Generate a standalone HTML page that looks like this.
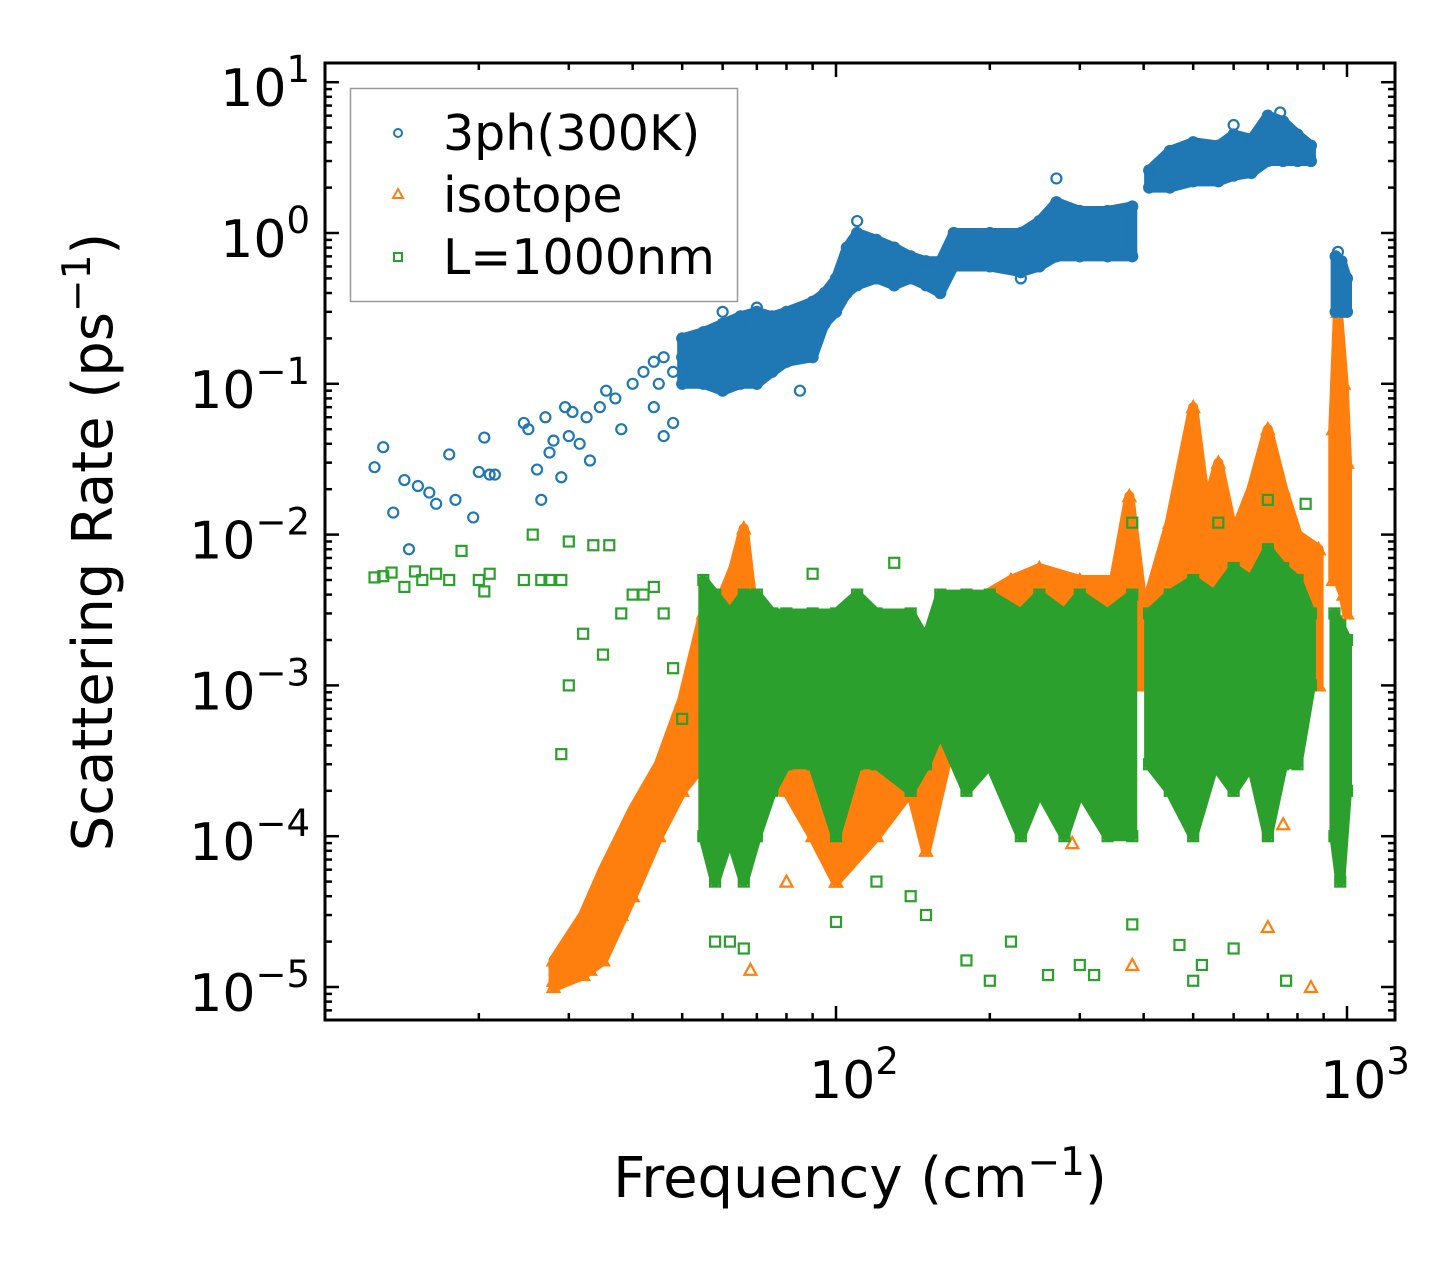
<!DOCTYPE html>
<html><head><meta charset="utf-8"><style>
html,body{margin:0;padding:0;background:#fff;}
svg{display:block;font-family:"DejaVu Sans","Liberation Sans",sans-serif;}
</style></head><body>
<svg id="chart" width="1456" height="1270" viewBox="0 0 1456 1270" xmlns="http://www.w3.org/2000/svg">
<rect x="0" y="0" width="1456" height="1270" fill="#fff"/>
<g id="plot"></g>
<g id="axes"></g>
<text x="860" y="1197" font-size="56" text-anchor="middle">Frequency (cm<tspan dy="-22" font-size="39">−1</tspan><tspan dy="22">)</tspan></text>
<text transform="translate(112,542) rotate(-90)" font-size="56" text-anchor="middle">Scattering Rate (ps<tspan dy="-22" font-size="39">−1</tspan><tspan dy="22">)</tspan></text>
<g>
<rect x="350.5" y="88.5" width="387" height="213" fill="#fff" stroke="#999" stroke-width="1.5"/>
<g><circle cx="398" cy="133" r="4" fill="none" stroke="#1f77b4" stroke-width="2"/><text x="443" y="150" font-size="49">3ph(300K)</text></g>
<g><path d="M398,189 L403,198 L393,198 Z" fill="none" stroke="#ff7f0e" stroke-width="2"/><text x="443" y="212" font-size="49">isotope</text></g>
<g><rect x="394" y="253" width="8" height="8" fill="none" stroke="#2ca02c" stroke-width="2"/><text x="443" y="274" font-size="49">L=1000nm</text></g>
</g>
</svg>
<script>
// ---- data ----
const blueBand = [[[50,0.1,0.2],[55,0.1,0.22],[60,0.09,0.25],[65,0.1,0.28],[70,0.1,0.3],[75,0.12,0.28],[80,0.14,0.3],[90,0.15,0.35],[95,0.25,0.4],[100,0.3,0.5],[105,0.4,0.8],[110,0.45,1.0],[120,0.5,0.9],[130,0.45,0.8],[140,0.5,0.7],[150,0.45,0.65],[160,0.4,0.65],[170,0.6,1.0],[200,0.6,1.0],[230,0.55,1.0],[250,0.6,1.2],[270,0.7,1.6],[300,0.7,1.4],[340,0.7,1.4],[380,0.7,1.5]],
  [[410,2,2.6],[450,2,3.5],[500,2.2,4],[560,2.2,3.8],[600,2.4,4.5],[650,2.5,4.2],[700,3,6],[750,3,5.5],[800,3,4.5],[850,3,3.8]],
  [[950,0.3,0.7],[975,0.3,0.65],[1000,0.3,0.5]]];
const bluePts = [[12.5,0.028],[13,0.038],[13.6,0.014],[14.3,0.023],[14.6,0.008],[15.2,0.021],[16,0.019],[16.5,0.016],[17.5,0.034],[18,0.017],[19.5,0.013],[20,0.026],[20.5,0.044],[21,0.025],[21.5,0.025],[24.5,0.055],[25,0.05],[26,0.027],[26.5,0.017],[27,0.06],[27.5,0.035],[28,0.042],[29,0.024],[29.5,0.07],[30,0.045],[30.5,0.065],[31.5,0.04],[32.5,0.06],[33,0.031],[34.5,0.07],[35.5,0.09],[37,0.08],[38,0.05],[40,0.1],[42,0.12],[44,0.07],[45,0.1],[46,0.045],[48,0.055],[44,0.14],[46,0.15],[48,0.12],[50,0.15],[55,0.2],[60,0.3],[65,0.25],[70,0.32],[110,1.2],[270,2.3],[600,5.2],[740,6.3],[960,0.75],[85,0.09],[130,0.45],[230,0.5]];
const orangeBand = [[[28,1e-5,1.5e-5],[32,1.2e-5,3e-5],[35,1.5e-5,6e-5],[40,4e-5,1.5e-4],[45,1e-4,3e-4],[50,2e-4,8e-4],[55,3e-4,3e-3],[60,5e-4,4e-3],[63,1e-3,6e-3],[66,1e-3,1.1e-2],[70,2e-4,2e-3],[80,2e-4,1.5e-3],[90,1e-4,2e-3],[100,5e-5,1e-3],[120,1e-4,1e-3],[140,2e-4,1.5e-3],[150,8e-5,1e-3],[170,5e-4,3e-3],[220,5e-4,5e-3],[250,5e-4,6e-3],[300,5e-4,5e-3],[350,1e-3,5e-3],[375,1e-3,1.8e-2],[400,1e-3,3e-3],[450,1e-3,1.2e-2],[500,1e-3,7e-2],[530,1e-3,1.5e-2],[560,1e-3,3e-2],[600,1e-3,1e-2],[650,1e-3,2e-2],[700,1e-3,5e-2],[750,2e-3,2e-2],[800,3e-3,1e-2],[880,1e-3,8e-3]],
  [[940,5e-3,0.05],[960,5e-3,0.3],[985,4e-3,0.1],[1000,3e-3,0.03]]];
const orangePts = [[28,1.1e-5],[30,1.2e-5],[32,1.8e-5],[33,1.3e-5],[36,2.5e-5],[38,3e-5],[40,5e-5],[42,8e-5],[44,1.5e-4],[68,1.3e-5],[700,2.5e-5],[850,1e-5],[380,1.4e-5],[80,5e-5],[100,5e-5],[750,1.2e-4],[290,9e-5]];
const greenBand = [[[55,1e-4,5e-3],[58,5e-5,4e-3],[62,1e-4,3e-3],[66,5e-5,4e-3],[70,1e-4,4e-3],[75,2e-4,3e-3],[80,3e-4,3e-3],[90,3e-4,3e-3],[100,1e-4,3e-3],[110,3e-4,4e-3],[120,3e-4,3e-3],[140,2e-4,3e-3],[150,3e-4,2e-3],[160,5e-4,4e-3],[180,2e-4,4e-3],[200,3e-4,4e-3],[230,1e-4,3e-3],[250,2e-4,4e-3],[280,1e-4,3e-3],[300,2e-4,4e-3],[340,1e-4,3e-3],[380,1e-4,4e-3]],
  [[410,3e-4,3e-3],[450,2e-4,4e-3],[500,1e-4,5e-3],[550,3e-4,4e-3],[600,2e-4,6e-3],[650,3e-4,5e-3],[700,1e-4,8e-3],[750,3e-4,6e-3],[800,3e-4,5e-3],[850,1e-3,3e-3]],
  [[945,1e-4,3e-3],[970,5e-5,2.5e-3],[1000,2e-4,2e-3]]];
const greenPts = [[12.5,0.0052],[13,0.0053],[13.5,0.0056],[14.3,0.0045],[15,0.0057],[15.5,0.005],[16.5,0.0055],[17.5,0.005],[18.5,0.0078],[20,0.005],[20.5,0.0042],[21,0.0055],[24.5,0.005],[25.5,0.01],[26.5,0.005],[27.5,0.005],[29,0.005],[30,0.009],[32,0.0022],[33.5,0.0085],[35,0.0016],[36,0.0085],[38,0.003],[40,0.004],[42,0.004],[44,0.0045],[46,0.003],[48,0.0013],[30,0.001],[29,0.00035],[50,0.0006],[100,0.000027],[140,0.00004],[180,0.000015],[200,0.000011],[220,0.00002],[260,0.000012],[300,0.000014],[320,0.000012],[380,0.000026],[470,0.000019],[500,0.000011],[520,0.000014],[600,0.000018],[760,0.000011],[58,0.00002],[62,0.00002],[66,0.000018],[120,0.00005],[150,0.00003],[700,0.017],[830,0.016],[560,0.012],[380,0.012],[130,0.0065],[90,0.0055]];
const xTickVals = [100,1000];
const xTickExp = ["2","3"];
const yTickVals = [10,1,0.1,0.01,0.001,0.0001,0.00001];
const yTickExp = ["1","0","−1","−2","−3","−4","−5"];

// ---- scales ----
const L=325,R=1395,T=63,B=1020;
const X = f => 836 + (Math.log10(f)-2)*511;
const Y = v => 233 - Math.log10(v)*150.8;
const NS="http://www.w3.org/2000/svg";
const plot=document.getElementById('plot'), axes=document.getElementById('axes');
function mk(tag, parent, attrs){const e=document.createElementNS(NS,tag);for(const k in attrs)e.setAttribute(k,attrs[k]);parent.appendChild(e);return e;}
const cp=mk('clipPath',plot,{id:'clip'});mk('rect',cp,{x:L,y:T,width:R-L,height:B-T});
const g=mk('g',plot,{'clip-path':'url(#clip)'});

function marker(parent,type,color,f,v){
  const x=X(f),y=Y(v);let e;
  if(type==='c') e=mk('circle',parent,{cx:x,cy:y,r:5,fill:'none',stroke:color,'stroke-width':2.2});
  else if(type==='t') e=mk('path',parent,{d:`M${x},${y-6} L${x+6},${y+5} L${x-6},${y+5} Z`,fill:'none',stroke:color,'stroke-width':2.2});
  else e=mk('rect',parent,{x:x-5,y:y-5,width:10,height:10,fill:'none',stroke:color,'stroke-width':2.2});
  return e;
}
function series(name,band,pts,type,color){
  const sg=mk('g',g,{});
  
  
  band.forEach(seg=>{
    let d='M'+seg.map(p=>X(p[0])+','+Y(p[2])).join(' L');
    d+=' L'+seg.slice().reverse().map(p=>X(p[0])+','+Y(p[1])).join(' L')+' Z';
    const p=mk('path',sg,{d:d,fill:color,stroke:color,'stroke-width':10,'stroke-linejoin':'round'});
    
    
    seg.forEach(q=>{marker(sg,type,color,q[0],q[1]);marker(sg,type,color,q[0],q[2]);});
  });
  pts.forEach(p=>{
    const m=marker(sg,type,color,p[0],p[1]);
    
    
  });
}
series('isotope',orangeBand,orangePts,'t','#ff7f0e');
series('boundary',greenBand,greenPts,'s','#2ca02c');
series('3ph',blueBand,bluePts,'c','#1f77b4');

// ---- axes ----
mk('rect',axes,{x:L,y:T,width:R-L,height:B-T,fill:'none',stroke:'#000','stroke-width':3});
for(let e=1;e<=3;e++)for(let k=1;k<10;k++){
  const f=k*Math.pow(10,e);const x=X(f);if(x<L+2||x>R-2)continue;
  const len=k===1?14:7;
  mk('line',axes,{x1:x,y1:B,x2:x,y2:B-len,stroke:'#000','stroke-width':2.5});
  mk('line',axes,{x1:x,y1:T,x2:x,y2:T+len,stroke:'#000','stroke-width':2.5});
}
for(let e=-6;e<=1;e++)for(let k=1;k<10;k++){
  const v=k*Math.pow(10,e);const y=Y(v);if(y<T+2||y>B-2)continue;
  const len=k===1?14:7;
  mk('line',axes,{x1:L,y1:y,x2:L+len,y2:y,stroke:'#000','stroke-width':2.5});
  mk('line',axes,{x1:R,y1:y,x2:R-len,y2:y,stroke:'#000','stroke-width':2.5});
}
xTickVals.forEach((v,i)=>{
  const t=mk('text',axes,{x:X(v)+18,y:1098,'font-size':52,'text-anchor':'middle'});
  
  
  t.innerHTML='10<tspan dy="-24" font-size="37">'+xTickExp[i]+'</tspan>';
});
yTickVals.forEach((v,i)=>{
  const t=mk('text',axes,{x:310,y:Y(v)+24,'font-size':52,'text-anchor':'end'});
  
  
  t.innerHTML='10<tspan dy="-24" font-size="37">'+yTickExp[i]+'</tspan>';
});
</script>
</body></html>
